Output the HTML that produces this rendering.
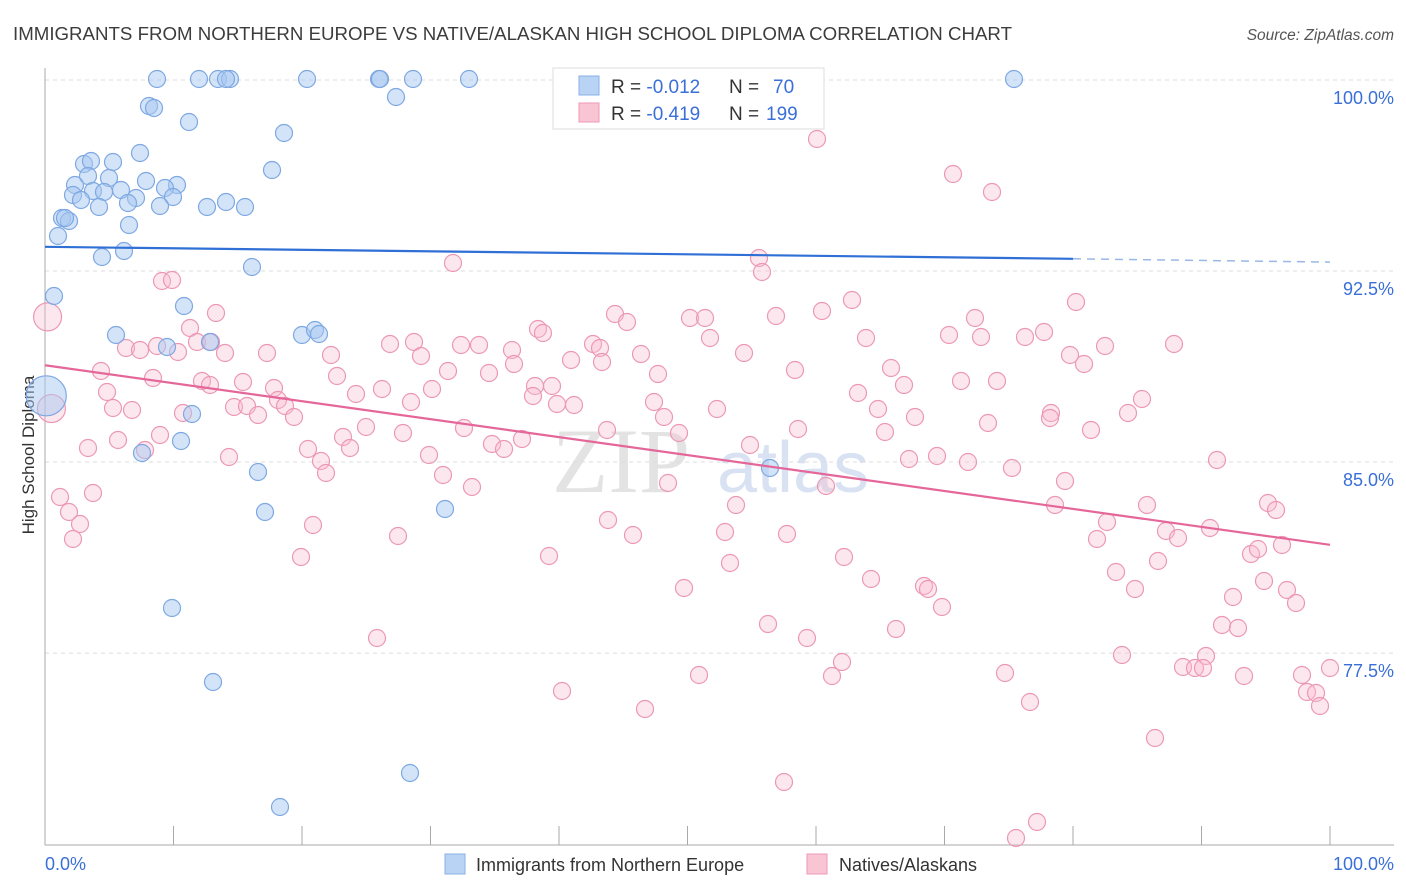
<!DOCTYPE html>
<html><head><meta charset="utf-8"><style>
body{margin:0;background:#fff;font-family:"Liberation Sans",sans-serif;}
svg{display:block}
</style></head><body>
<svg id="c" width="1406" height="892">
<text x="13" y="40" font-size="18" textLength="999" lengthAdjust="spacingAndGlyphs" fill="#3c3c3c">IMMIGRANTS FROM NORTHERN EUROPE VS NATIVE/ALASKAN HIGH SCHOOL DIPLOMA CORRELATION CHART</text>
<text x="1394" y="40" font-size="15.5" fill="#555" text-anchor="end" font-style="italic">Source: ZipAtlas.com</text>
<text transform="translate(34,455) rotate(-90)" font-size="17" fill="#333" text-anchor="middle">High School Diploma</text>
<g><text x="552" y="492" font-size="92" fill="#ddd" font-family="Liberation Serif,serif" opacity="0.8">ZIP</text><text x="717" y="492" font-size="72" fill="#cfdcef" opacity="0.8">atlas</text></g>
<g id="grid"></g><g id="axes"></g><g id="pts"></g><g id="trend"></g>
<g>
<rect x="553" y="68" width="271" height="61" fill="#fff" stroke="#ddd"/>
<rect x="579" y="76" width="20" height="19" fill="#b9d3f5" stroke="#8ab0e6"/>
<text x="611" y="93" font-size="19" fill="#333">R = <tspan fill="#3a6fd8">-0.012</tspan></text>
<text x="729" y="93" font-size="19" fill="#333">N = </text>
<text x="773" y="93" font-size="19" fill="#3a6fd8">70</text>
<rect x="579" y="103" width="20" height="19" fill="#f9c4d4" stroke="#ee9ab5"/>
<text x="611" y="120" font-size="19" fill="#333">R = <tspan fill="#3a6fd8">-0.419</tspan></text>
<text x="729" y="120" font-size="19" fill="#333">N = </text>
<text x="766" y="120" font-size="19" fill="#3a6fd8">199</text>
</g>
<g>
<rect x="445" y="854" width="20" height="20" fill="#b9d3f5" stroke="#8ab0e6"/>
<text x="476" y="871" font-size="18" fill="#333">Immigrants from Northern Europe</text>
<rect x="807" y="854" width="20" height="20" fill="#f9c4d4" stroke="#ee9ab5"/>
<text x="839" y="871" font-size="18" fill="#333">Natives/Alaskans</text>
</g>
</svg>
<script>
const yTicks=[100,92.5,85,77.5];
const yTickLabels=["100.0%","92.5%","85.0%","77.5%"];
const xTickLabels=["0.0%","100.0%"];
const bluePx=[[157,79],[199,79],[218,79],[230,79],[226,79],[307,79],[379,79],[380,79],[413,79],[469,79],[753,79],[1014,79],[396,97],[149,106],[154,108],[189,122],[284,133],[140,153],[84,164],[91,161],[113,162],[272,170],[88,176],[109,178],[146,181],[75,185],[177,185],[93,191],[104,192],[121,190],[165,188],[73,195],[173,197],[81,200],[136,198],[128,203],[99,207],[160,206],[207,207],[226,202],[245,207],[62,218],[69,221],[65,218],[129,225],[58,236],[124,251],[102,257],[252,267],[54,296],[184,306],[116,335],[302,335],[315,330],[319,334],[167,347],[210,342],[192,414],[181,441],[142,453],[258,472],[770,468],[265,512],[445,509],[172,608],[213,682],[410,773],[280,807]];
const pinkPx=[[817,139],[953,174],[992,192],[453,263],[759,258],[762,272],[162,281],[172,280],[852,300],[1076,302],[216,313],[615,314],[627,322],[690,318],[705,318],[776,316],[822,311],[975,318],[190,328],[197,342],[538,329],[543,333],[710,338],[866,338],[949,335],[981,337],[1025,337],[1044,332],[1174,344],[1105,346],[126,348],[140,350],[157,346],[178,352],[211,342],[225,353],[267,353],[331,355],[390,344],[414,342],[421,356],[461,345],[479,345],[593,344],[600,348],[641,354],[744,353],[512,350],[571,360],[602,362],[1070,355],[1084,364],[101,371],[153,378],[202,381],[210,385],[243,382],[274,388],[337,376],[382,389],[432,389],[448,371],[489,373],[514,364],[535,386],[552,386],[658,374],[795,370],[891,368],[904,385],[961,381],[997,381],[107,392],[234,407],[247,406],[258,415],[278,400],[285,406],[294,417],[356,394],[411,402],[533,396],[557,404],[574,405],[654,402],[717,409],[858,393],[878,409],[915,417],[1051,413],[1128,413],[1142,399],[113,408],[132,410],[183,413],[88,448],[118,440],[145,450],[160,435],[229,457],[308,449],[321,461],[326,473],[343,437],[350,448],[366,427],[403,433],[429,455],[443,475],[464,428],[472,487],[492,444],[504,449],[522,439],[607,430],[664,417],[679,433],[750,445],[798,429],[826,486],[885,432],[909,459],[937,456],[968,462],[988,423],[1012,468],[1050,418],[1065,481],[1091,430],[1217,460],[60,497],[69,512],[80,524],[93,493],[73,539],[313,525],[398,536],[608,520],[633,535],[668,483],[725,532],[736,505],[787,534],[1055,505],[1097,539],[1107,522],[1147,505],[1166,531],[1178,538],[1210,528],[1268,503],[1276,510],[1251,554],[1258,549],[1282,545],[301,557],[549,556],[730,563],[844,557],[684,588],[871,579],[924,586],[928,589],[942,607],[1116,572],[1135,589],[1158,561],[1233,597],[1264,581],[1287,590],[1296,603],[377,638],[768,624],[807,638],[896,629],[1222,625],[1238,628],[842,662],[1122,655],[1206,656],[832,676],[699,675],[1005,673],[1183,667],[1195,668],[1203,668],[1244,676],[1302,675],[1330,668],[562,691],[1030,702],[1307,692],[1316,693],[1320,706],[645,709],[1155,738],[784,782],[1037,822],[1016,838]];
// convert estimated pixel readings to data values
const toX=px=>(px-45)/12.85, toY=py=>100-(py-80)/25.47;
const blueData=bluePx.map(p=>[toX(p[0]),toY(p[1])]);
const pinkData=pinkPx.map(p=>[toX(p[0]),toY(p[1])]);
const blueBig=[[0.1,87.6]];
const pinkBig=[[0.2,90.7],[0.5,87.1]];
const blueTrend=[[0,93.45],[80,92.98],[100,92.85]];
const pinkTrend=[[0,88.8],[100,81.75]];
const NS="http://www.w3.org/2000/svg";
const X=v=>45+v*12.85, Y=v=>80+(100-v)*25.47;
function mk(t,a,p){const e=document.createElementNS(NS,t);for(const k in a)e.setAttribute(k,a[k]);p.appendChild(e);return e;}
const grid=document.getElementById('grid'),axes=document.getElementById('axes'),pts=document.getElementById('pts'),tr=document.getElementById('trend');
yTicks.forEach((v,i)=>{
 const l=mk('line',{x1:45,x2:1394,y1:Y(v),y2:Y(v),stroke:'#ddd','stroke-dasharray':'4,4'},grid);
 
 
 const t=mk('text',{x:1394,y:Y(v)+24,'font-size':18,fill:'#3a6fd8','text-anchor':'end'},grid);t.textContent=yTickLabels[i];
 
 
});
let a=mk('line',{x1:45,x2:45,y1:68,y2:845,stroke:'#aaa'},axes);


a=mk('line',{x1:45,x2:1394,y1:845,y2:845,stroke:'#aaa'},axes);


for(let i=1;i<=10;i++){const t=mk('line',{x1:X(i*10),x2:X(i*10),y1:826,y2:845,stroke:'#aaa'},axes);
 
 }
let xl=mk('text',{x:45,y:870,'font-size':18,fill:'#3a6fd8'},axes);xl.textContent=xTickLabels[0];


xl=mk('text',{x:1394,y:870,'font-size':18,fill:'#3a6fd8','text-anchor':'end'},axes);xl.textContent=xTickLabels[1];


function dots(d,r,fill,stroke,name){d.forEach(p=>{const c=mk('circle',{cx:X(p[0]),cy:Y(p[1]),r:r,fill:fill,stroke:stroke,'stroke-width':1.2},pts);
 
 });}
dots(pinkData,8.5,'rgba(248,185,205,0.35)','#ec98b4','native-point');
dots(pinkBig,14,'rgba(248,185,205,0.35)','#ec98b4','native-point');
dots(blueData,8.5,'rgba(168,200,242,0.5)','#7ea8e2','immigrant-point');
dots(blueBig,20,'rgba(168,200,242,0.5)','#7ea8e2','immigrant-point');
let t=mk('line',{x1:X(blueTrend[0][0]),y1:Y(blueTrend[0][1]),x2:X(blueTrend[1][0]),y2:Y(blueTrend[1][1]),stroke:'#2f6fd6','stroke-width':2.2},tr);


t=mk('line',{x1:X(blueTrend[1][0]),y1:Y(blueTrend[1][1]),x2:X(blueTrend[2][0]),y2:Y(blueTrend[2][1]),stroke:'#9ab8e6','stroke-width':1.5,'stroke-dasharray':'8,6'},tr);


t=mk('line',{x1:X(pinkTrend[0][0]),y1:Y(pinkTrend[0][1]),x2:X(pinkTrend[1][0]),y2:Y(pinkTrend[1][1]),stroke:'#e5679a','stroke-width':2.2},tr);


</script>
</body></html>
